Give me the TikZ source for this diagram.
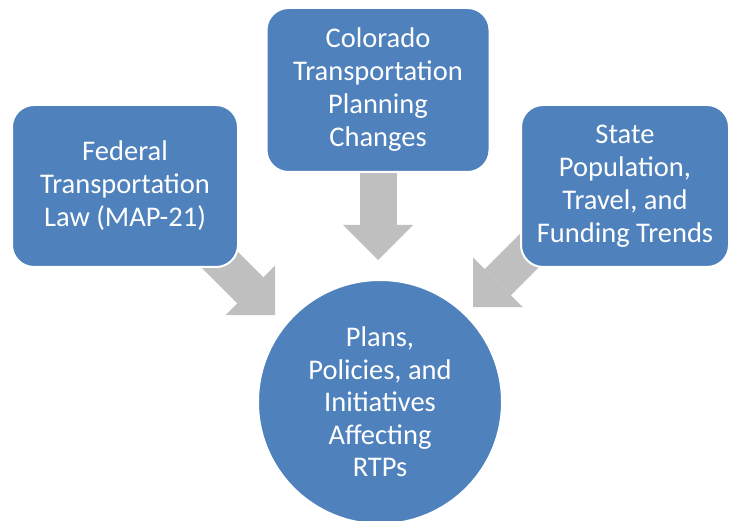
\documentclass[tikz,border=0pt]{standalone}
\usepackage{fontspec}
\setmainfont{Carlito}
\usetikzlibrary{arrows.meta,backgrounds}

\definecolor{boxblue}{RGB}{79,129,189}
\definecolor{arrowgray}{RGB}{191,191,191}

\begin{document}
\begin{tikzpicture}%
        [x={(1pt,0pt)},
        y={(0pt,-1pt)},
        box/.style={rectangle, rounded corners=22pt, fill=boxblue, draw=white, line width=2pt,
            text=white, align=center, inner sep=0pt, font=\fontsize{28.5}{33}\selectfont},
        hub/.style={circle, fill=boxblue, draw=white, line width=2pt, minimum size=244,
            text=white, align=center, inner sep=0pt, font=\fontsize{28.5}{32.5}\selectfont},
        bigarrow/.style={draw=arrowgray, line width=37,
            -{Triangle[width=70pt,length=35pt,line width=0pt]}}]
    %
    %% Page frame
    \useasboundingbox (0,0) rectangle (733,521);
    %%
    %% Drawing the boxes
    %%
    \node[box, minimum width=226, minimum height=162] (fedlaw) at (125,186)
        {Federal\\Transportation\\Law (MAP-21)};
    \node[box, minimum width=223, minimum height=164] (coplan) at (378,90)
        {Colorado\\Transportation\\Planning\\Changes};
    \node[box, minimum width=208, minimum height=162] (trends) at (625,186)
        {State\\Population,\\Travel, and\\Funding Trends};
    \node[hub] (rtps) at (380,402)
        {Plans,\\Policies, and\\Initiatives\\Affecting\\RTPs};
    %%
    %% Ends of the arrows
    %%
    \coordinate (fedout) at (200,240);
    \coordinate (fedtip) at (275,315);
    \coordinate (coout) at (378,160);
    \coordinate (cotip) at (378,260);
    \coordinate (trout) at (540,240);
    \coordinate (trtip) at (473,307);
    %%
    %% Drawing the arrows
    %%
    \begin{pgfonlayer}{background}
    \draw[bigarrow] (fedout) -- (fedtip);
    \draw[bigarrow] (coout) -- (cotip);
    \draw[bigarrow] (trout) -- (trtip);
    \end{pgfonlayer}
    %%
\end{tikzpicture}
\end{document}
